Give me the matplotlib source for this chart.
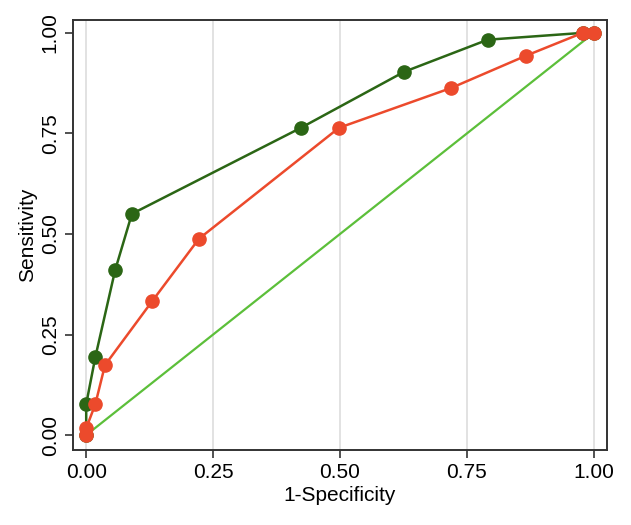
import matplotlib.pyplot as plt

# ROC points
fpr_a = [0.0, 0.0, 0.018, 0.057, 0.09, 0.423, 0.626, 0.791, 0.978, 1.0]
tpr_a = [0.0, 0.077, 0.194, 0.41, 0.55, 0.764, 0.903, 0.983, 1.0, 1.0]

fpr_b = [0.0, 0.0, 0.018, 0.037, 0.13, 0.222, 0.498, 0.719, 0.866, 0.978, 1.0]
tpr_b = [0.0, 0.017, 0.077, 0.174, 0.333, 0.488, 0.764, 0.863, 0.943, 1.0, 1.0]

ticks = [0.0, 0.25, 0.5, 0.75, 1.0]
tick_labels = ['0.00', '0.25', '0.50', '0.75', '1.00']

plt.rcParams['font.family'] = ['Liberation Sans', 'DejaVu Sans']

fig = plt.figure(figsize=(6.31, 5.25), dpi=100)
ax = fig.add_axes([0.1157, 0.1429, 0.8463, 0.819])

ax.plot([0, 1], [0, 1], color='#5cbf3a', lw=1.6, zorder=2)
ax.plot(fpr_a, tpr_a, '-o', color='#2b6615', lw=1.8, ms=9.5, zorder=3)
ax.plot(fpr_b, tpr_b, '-o', color='#ec4a2c', lw=1.8, ms=9.5, zorder=4)

ax.set_xlim(-0.026, 1.026)
ax.set_ylim(-0.037, 1.032)
ax.set_xticks(ticks)
ax.set_xticklabels(tick_labels)
ax.set_yticks(ticks)
ax.set_yticklabels(tick_labels, rotation=90, va='center')
ax.tick_params(labelsize=15, length=6, width=1.2, color='#333333')
ax.grid(axis='x', color='#dddddd', lw=1.2)
ax.set_axisbelow(True)
for s in ax.spines.values():
    s.set_color('#333333')
    s.set_linewidth(1.4)

ax.set_xlabel('1-Specificity', fontsize=15, labelpad=3)
ax.set_ylabel('Sensitivity', fontsize=15, labelpad=3)

plt.savefig('out.png', dpi=100)
plt.close()
